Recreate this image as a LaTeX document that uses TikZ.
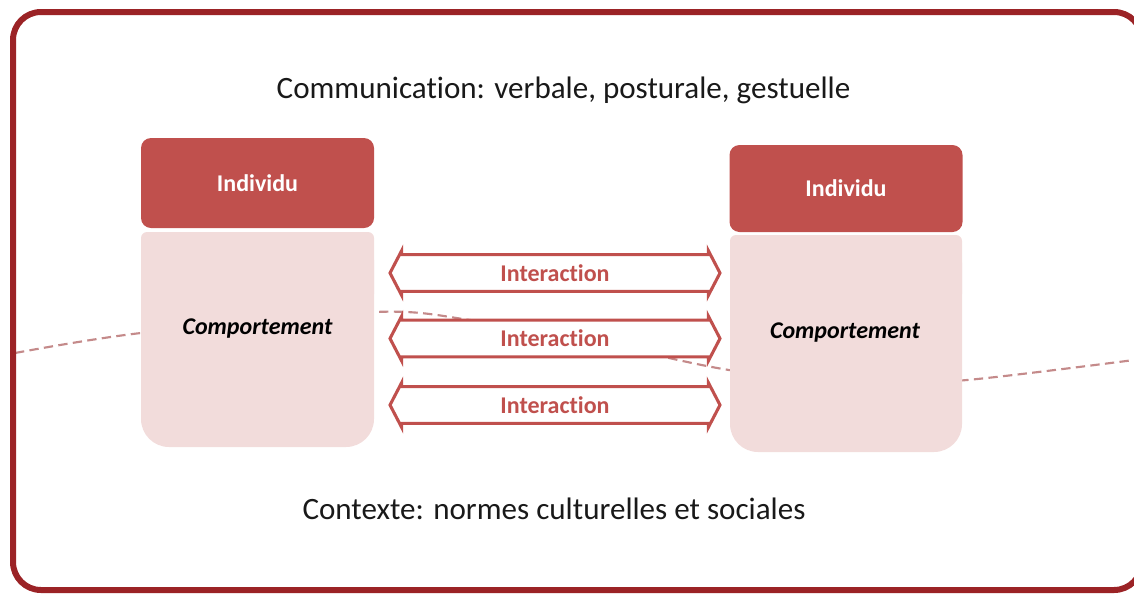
\documentclass[tikz,border=0pt]{standalone}
\usepackage{fontspec}
\setmainfont{Carlito}[Ligatures=NoCommon]
\usetikzlibrary{shapes.arrows}
\definecolor{framered}{RGB}{155,35,38}
\definecolor{boxred}{RGB}{192,80,77}
\definecolor{boxpink}{RGB}{242,220,219}
\definecolor{dashred}{RGB}{196,138,138}
\definecolor{inktext}{RGB}{25,25,25}

\begin{document}
\begin{tikzpicture}[x=0.75pt, y=-0.75pt,
    indiv/.style={fill=boxred, rounded corners=7.5pt, text=white, font=\bfseries\fontsize{18}{20}\selectfont, minimum width=174.75pt, inner sep=0pt},
    comp/.style={anchor=base, text=black, font=\bfseries\itshape\fontsize{18}{20}\selectfont},
    interarrow/.style={double arrow, draw=boxred, line width=2.3pt, fill=white, text=boxred, font=\bfseries\fontsize{18}{20}\selectfont, minimum height=247.5pt, double arrow head extend=3pt, double arrow tip angle=125, inner xsep=1pt, inner ysep=6.2pt},
    caption/.style={anchor=base, text=inktext, font=\fontsize{23.3}{28}\selectfont}]
    \useasboundingbox (0,0) rectangle (1134,593);
    \clip (0,0) rectangle (1134,593);

    \draw[dashred, line width=1.6pt, dash pattern=on 7pt off 4pt] plot[smooth] coordinates {(15,353) (141,333) (374,312) (470,320) (600,343) (723,369) (850,385) (967,380) (1134,360)};

    \fill[boxpink, rounded corners=21pt] (141,232) rectangle (374,447);
    \fill[boxpink, rounded corners=4.5pt] (141,232) rectangle (374,300);
    \fill[boxpink, rounded corners=21pt] (730,235) rectangle (962,452);
    \fill[boxpink, rounded corners=4.5pt] (730,235) rectangle (962,300);

    \node[indiv, minimum height=67.5pt] (indL) at (257.5,183) {Individu};
    \node[indiv, minimum height=65.25pt] (indR) at (846,188.5) {Individu};
    \node[comp] (compL) at (257.5,334) {Comportement};
    \node[comp] (compR) at (845,338) {Comportement};

    \node[interarrow] (int1) at (555,273) {Interaction};
    \node[interarrow] (int2) at (555,338.5) {Interaction};
    \node[interarrow] (int3) at (555,405) {Interaction};

    \node[caption] (comm) at (563.5,98) {Communication: verbale, posturale, gestuelle};
    \node[caption] (ctx) at (554,519) {Contexte: normes culturelles et sociales};

    \draw[framered, line width=4.5pt, rounded corners=21pt] (13,12) rectangle (1142,590);
\end{tikzpicture}
\end{document}
